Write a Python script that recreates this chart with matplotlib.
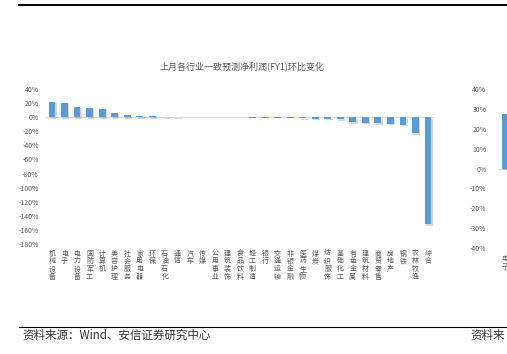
import matplotlib
matplotlib.use("Agg")
import matplotlib.pyplot as plt
import matplotlib.patheffects as pe
import numpy as np

plt.rcParams['font.family'] = ['Noto Sans CJK SC', 'DejaVu Sans']

W, H = 507, 354

# main chart data (% change of consensus FY1 net profit, last month)
industries = ["机械设备", "电子", "电力设备", "国防军工", "计算机", "美容护理", "社会服务",
              "家用电器", "环保", "石油石化", "通信", "汽车", "传媒", "公用事业", "建筑装饰",
              "食品饮料", "轻工制造", "银行", "交通运输", "非银金融", "医药生物", "煤炭",
              "纺织服饰", "基础化工", "有色金属", "建筑材料", "商贸零售", "房地产", "钢铁",
              "农林牧渔", "综合"]
changes = [21.5, 20.5, 15.0, 13.5, 12.0, 6.0, 2.5, 2.2, 2.0, 0.3, 0.2, 0.1, -0.1, -0.2, -0.3,
           -0.4, -0.6, -0.8, -1.0, -1.3, -1.6, -2.0, -2.5, -3.2, -7.5, -8.0, -8.5, -9.0, -11.0,
           -23.0, -152.0]
main_ticks = list(range(-180, 41, 20))
title = "上月各行业一致预测净利润(FY1)环比变化"

# partially visible neighbouring chart
right_cats = ["电子"]
right_vals = [27.6]
right_ticks = list(range(-40, 41, 10))

source = "资料来源：Wind、安信证券研究中心"
source_cut = "资料来"

BLUE = "#5B9BD5"
GREY = "#595959"
shadow = [pe.SimplePatchShadow(offset=(1.0, -1.0), shadow_rgbFace="#7f7f7f", alpha=0.3), pe.Normal()]


def px_axes(fig, x0, y0, x1, y1):
    return fig.add_axes([x0 / W, 1 - y1 / H, (x1 - x0) / W, (y1 - y0) / H])


fig = plt.figure(figsize=(W / 100, H / 100), dpi=100)

ax = px_axes(fig, 45.7, 89, 434.3, 244)
x = np.arange(len(industries))
bars = ax.bar(x, changes, width=0.55, color=BLUE, zorder=3)
for b in bars:
    b.set_path_effects(shadow)
ax.axhline(0, color="#d9d9d9", lw=0.8, zorder=2)
ax.set_xlim(-0.5, len(industries) - 0.5)
ax.set_ylim(-180, 40)
ax.set_yticks(main_ticks)
ax.set_yticklabels([f"{v}%" for v in main_ticks], fontsize=5, color=GREY)
ax.set_xticks(x)
ax.set_xticklabels(["\n".join(n) for n in industries], fontsize=5, color=GREY,
                   linespacing=0.95, va="top")
ax.tick_params(length=0, axis="y", pad=5)
ax.tick_params(length=0, axis="x", pad=4)
for s in ax.spines.values():
    s.set_visible(False)

fig.text(241.7 / W, 1 - 66 / H, title, fontsize=6.5, color=GREY, ha="center", va="center")

ax2 = px_axes(fig, 499, 89, 691, 248)
xr = np.arange(len(right_cats))
rb = ax2.bar(xr, right_vals, width=0.55, color=BLUE, zorder=3)
for b in rb:
    b.set_path_effects(shadow)
ax2.axhline(0, color="#d9d9d9", lw=0.8, zorder=2)
ax2.set_xlim(-0.5, 15.5)
ax2.set_ylim(-40, 40)
ax2.set_yticks(right_ticks)
ax2.set_yticklabels([f"{v}%" for v in right_ticks], fontsize=5, color=GREY)
ax2.set_xticks(xr)
ax2.set_xticklabels(["\n".join(n) for n in right_cats], fontsize=5, color=GREY,
                    linespacing=0.95, va="top")
ax2.tick_params(length=0, axis="y", pad=9)
ax2.tick_params(length=0, axis="x", pad=5)
for s in ax2.spines.values():
    s.set_visible(False)

# page frame lines and source notes
fig.add_artist(plt.Line2D([19 / W, 1], [1 - 4.7 / H] * 2, color="black", lw=1.4))
fig.add_artist(plt.Line2D([19 / W, 1], [1 - 327 / H] * 2, color="black", lw=0.8))
fig.text(22 / W, 1 - 335 / H, source, fontsize=8.3, color="#333333", ha="left", va="center")
fig.text(470 / W, 1 - 335 / H, source_cut, fontsize=8.3, color="#333333", ha="left", va="center")

fig.savefig("out.png", dpi=100)
